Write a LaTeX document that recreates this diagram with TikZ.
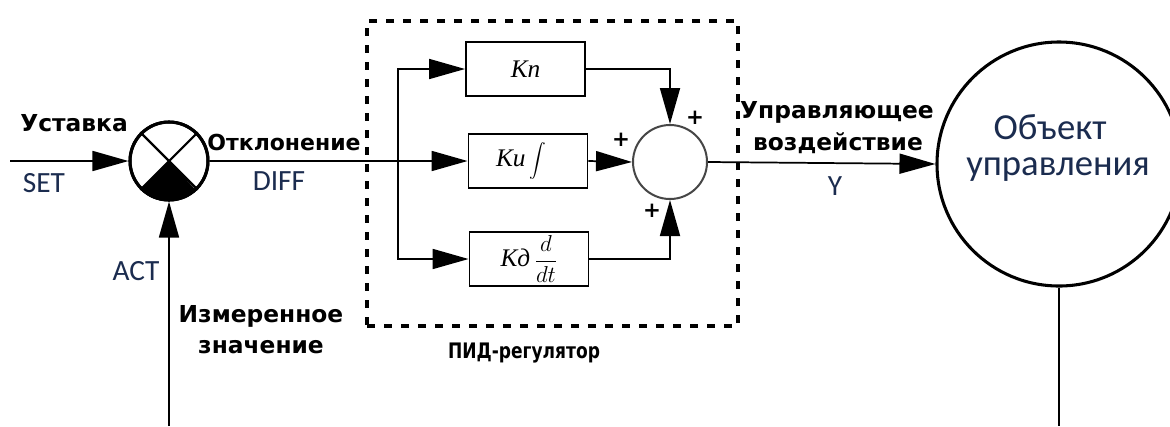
\documentclass[tikz,border=0pt]{standalone}
\usepackage{fontspec}
\setmainfont{DejaVu Sans}
\newfontfamily\calib{Carlito}
\newfontfamily\blockfont{Liberation Serif}
\usetikzlibrary{arrows.meta}
\definecolor{navy}{RGB}{27,44,79}
\definecolor{ringgray}{RGB}{70,70,70}
\begin{document}
\begin{tikzpicture}[x=0.75pt,y=-0.75pt,
  conn/.style={line width=1.3pt,draw=black},
  arr/.style={conn,-{Triangle[length=27pt,width=15pt]}},
  blockbox/.style={draw,line width=1.4pt,fill=white,minimum width=89.25pt,minimum height=40.5pt,inner sep=0pt,
    font=\blockfont\itshape\fontsize{19}{21}\selectfont},
  boldlbl/.style={font=\bfseries\fontsize{17.5}{20}\selectfont,inner sep=0pt,anchor=base},
  callbl/.style={font=\calib\fontsize{22}{26}\selectfont,text=navy,inner sep=0pt,anchor=base},
  objlbl/.style={font=\calib\fontsize{27.5}{27.5}\selectfont,text=navy,inner sep=0pt,align=center},
  pluslbl/.style={font=\bfseries\fontsize{16}{16}\selectfont,inner sep=0pt},
  pidbox/.style={draw,line width=2.4pt,dash pattern=on 6pt off 6.75pt,minimum width=278.25pt,minimum height=228.75pt,inner sep=0pt}
]
\useasboundingbox (0,0) rectangle (1170,426);
\fill[white] (0,0) rectangle (1170,426);

% PID dashed frame
\node[pidbox] (pid) at (552.5,173.5) {};

% first summing junction
\node[circle,draw,line width=2.3pt,fill=white,minimum size=58.5pt,inner sep=0pt] (sum1) at (169,161) {};
\fill (sum1.center) -- (sum1.-135) arc[start angle=-135,end angle=-45,radius=29.25pt] -- cycle;
\draw[line width=1.6pt] (sum1.135) -- (sum1.-45);
\draw[line width=1.6pt] (sum1.45) -- (sum1.-135);
\draw[line width=2.3pt] (sum1.center) circle[radius=29.25pt];

% blocks
\node[blockbox] (kp) at (525.5,69) {Кп};
\node[blockbox] (ki) at (528,161) {Ки\,\raisebox{-1pt}{\scalebox{1.25}{$\displaystyle\int$}}\hspace*{10pt}};
\node[blockbox] (kd) at (529,259) {Кд\,$\displaystyle\frac{d}{dt}$};

% second summing junction
\node[circle,draw=ringgray,line width=1.5pt,fill=white,minimum size=55.5pt,inner sep=0pt] (sum2) at (670,162) {};

% plant
\node[circle,draw,line width=2.3pt,minimum size=183pt,inner sep=0pt] (obj) at (1059,164) {};

% coordinates
\coordinate (in) at (10,161);
\coordinate (br) at (398,161);
\coordinate (fb) at (169,426);
\coordinate (out) at (1059,426);

% connectors
\draw[arr] (in) -- (sum1.west);
\draw[arr] (fb) -- (sum1.south);
\draw[arr] (sum1.east) -- (ki.west);
\draw[arr] (br) |- (kp.west);
\draw[arr] (br) |- (kd.west);
\draw[arr] (kp.east) -| (sum2.north);
\draw[arr] (kd.east) -| (sum2.south);
\draw[arr] (ki.east) -- (sum2.west);
\draw[arr] (sum2.east) -- (obj.west);
\draw[conn] (obj.south) -- (out);

% labels
\node[boldlbl] (ust) at (74,131) {Уставка};
\node[callbl] (set) at (44,192) {SET};
\node[boldlbl,font=\bfseries\fontsize{16.5}{20}\selectfont] (otkl) at (284,150) {Отклонение};
\node[callbl] (diff) at (279,190) {DIFF};
\node[callbl] (act) at (136,280) {ACT};
\node[boldlbl] (izm1) at (261,322) {Измеренное};
\node[boldlbl] (izm2) at (261,353) {значение};
\node[boldlbl,font=\bfseries\fontsize{16}{18}\selectfont] (pidlbl) at (524,358) {\scalebox{0.8}[1]{ПИД-регулятор}};
\node[boldlbl] (upr1) at (837,118) {Управляющее};
\node[boldlbl] (upr2) at (838,150) {воздействие};
\node[callbl] (ylbl) at (835,195) {Y};
\node[objlbl] (objtxt) at (1058,148) {Объект\hspace*{12pt}\\управления};

\node[pluslbl] (p1) at (695,118) {+};
\node[pluslbl] (p2) at (621,140) {+};
\node[pluslbl] (p3) at (652,211) {+};
\end{tikzpicture}
\end{document}
